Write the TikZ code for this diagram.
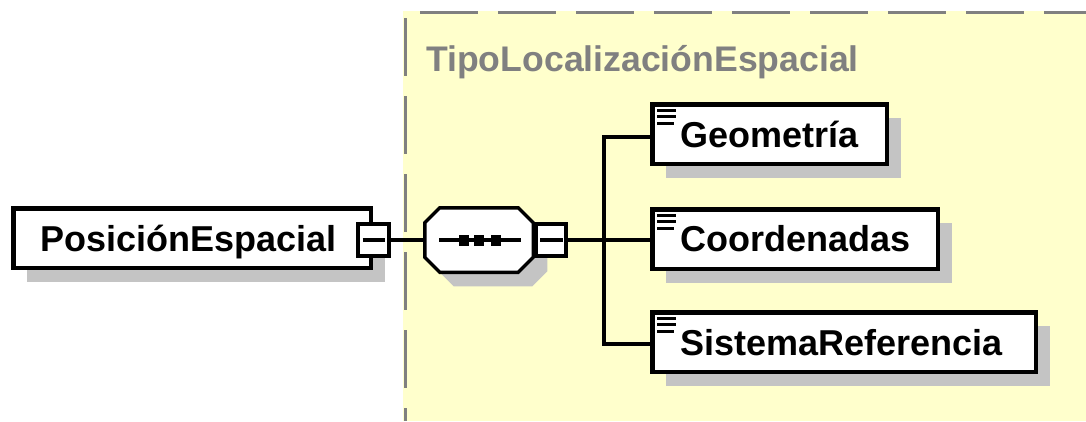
\documentclass[tikz,border=0pt]{standalone}
\usepackage{fontspec}
\setmainfont{Liberation Sans}
\usetikzlibrary{calc,shadows}
\definecolor{yel}{HTML}{FFFFCC}
\definecolor{bord}{HTML}{808080}
\definecolor{shd}{HTML}{C4C4C4}
\tikzset{
 elembox/.style={draw=black, line width=4.5pt, fill=white, inner sep=0pt, outer sep=0pt, anchor=north west,
   drop shadow={shadow xshift=14pt, shadow yshift=-14pt, fill=shd, opacity=1}},
 namelabel/.style={font=\fontsize{36}{40}\selectfont\bfseries, anchor=base west, inner sep=0pt},
 conn/.style={line width=4pt},
 minusbox/.style={draw, line width=4pt, fill=white, minimum width=31pt, minimum height=32pt, inner sep=0pt, outer sep=0pt},
 dashedborder/.style={bord, line width=3pt, dash pattern=on 58pt off 20pt},
}
\begin{document}
\begin{tikzpicture}[x=1pt,y=-1pt]
\useasboundingbox (0,0) rectangle (1086,421);
\fill[white] (0,0) rectangle (1086,421);
\fill[yel] (403,11) rectangle (1086,421);
\draw[dashedborder] (420,12.5) -- (1086,12.5);
\draw[dashedborder] (405.5,18) -- (405.5,421);
\node[namelabel, font=\fontsize{35.6}{40}\selectfont\bfseries, text=bord] (title) at (426,71) {TipoLocalizaciónEspacial};

% main element
\node[elembox, minimum width=357.5pt, minimum height=59.5pt] (pos) at (13.25,208.25) {};
\node[namelabel] (posl) at (40,251) {PosiciónEspacial};
\node[minusbox] (posm) at (373.5,240) {};
\draw[conn] ($(posm.center)+(-11,0)$) -- ($(posm.center)+(11,0)$);

% sequence compositor
\node[minimum width=108.5pt, minimum height=64.5pt, inner sep=0pt, outer sep=0pt] (seq) at (479,240) {};
\fill[shd] ($(seq.north west)+(15+14,14)$) -- ($(seq.north east)+(-15+14,14)$) -- ($(seq.north east)+(14,15+14)$)
  -- ($(seq.south east)+(14,-15+14)$) -- ($(seq.south east)+(-15+14,14)$) -- ($(seq.south west)+(15+14,14)$)
  -- ($(seq.south west)+(14,-15+14)$) -- ($(seq.north west)+(14,15+14)$) -- cycle;
\draw[line width=3.5pt, fill=white] ($(seq.north west)+(15,0)$) -- ($(seq.north east)+(-15,0)$) -- ($(seq.north east)+(0,15)$)
  -- ($(seq.south east)+(0,-15)$) -- ($(seq.south east)+(-15,0)$) -- ($(seq.south west)+(15,0)$)
  -- ($(seq.south west)+(0,-15)$) -- ($(seq.north west)+(0,15)$) -- cycle;
\draw[conn] ($(seq.center)+(-40,0)$) -- ($(seq.center)+(42,0)$);
\foreach \dx in {-15,0,16.5} {\fill ($(seq.center)+(\dx-5,-5.5)$) rectangle ++(10,11);}
\node[minusbox, minimum width=30pt] (seqm) at (551,240) {};
\draw[conn] ($(seqm.center)+(-11,0)$) -- ($(seqm.center)+(12,0)$);

% children
\node[elembox, minimum width=234.5pt, minimum height=59.5pt] (geo) at (652.25,104.25) {};
\node[elembox, minimum width=285.5pt, minimum height=59.5pt] (coo) at (652.25,209.25) {};
\node[elembox, minimum width=383.5pt, minimum height=59.5pt] (sys) at (652.25,312.25) {};
\foreach \n in {geo,coo,sys} {
  \draw[line width=3pt] ($(\n.north west)+(5,6.25)$) -- ++(19,0);
  \draw[line width=3pt] ($(\n.north west)+(5,12.5)$) -- ++(19,0);
  \draw[line width=3pt] ($(\n.north west)+(5,19)$) -- ++(17,0);
}
\node[namelabel] (geol) at (680,147) {Geometría};
\node[namelabel] (cool) at (680,251) {Coordenadas};
\node[namelabel] (sysl) at (680,355) {SistemaReferencia};

% connectors
\coordinate (branch) at (604,240);
\coordinate (geoin) at ($(geo.west)+(0,2.5)$);
\coordinate (sysin) at ($(sys.west)+(0,1.5)$);
\draw[conn] (posm.east) -- (seq.west |- posm.east);
\draw[conn] (seqm.east) -- (branch);
\draw[conn, line cap=rect] (geoin -| branch) -- (sysin -| branch);
\draw[conn] (geoin -| branch) -- (geoin);
\draw[conn] (branch) -- (coo.west |- branch);
\draw[conn] (sysin -| branch) -- (sysin);
\end{tikzpicture}
\end{document}
